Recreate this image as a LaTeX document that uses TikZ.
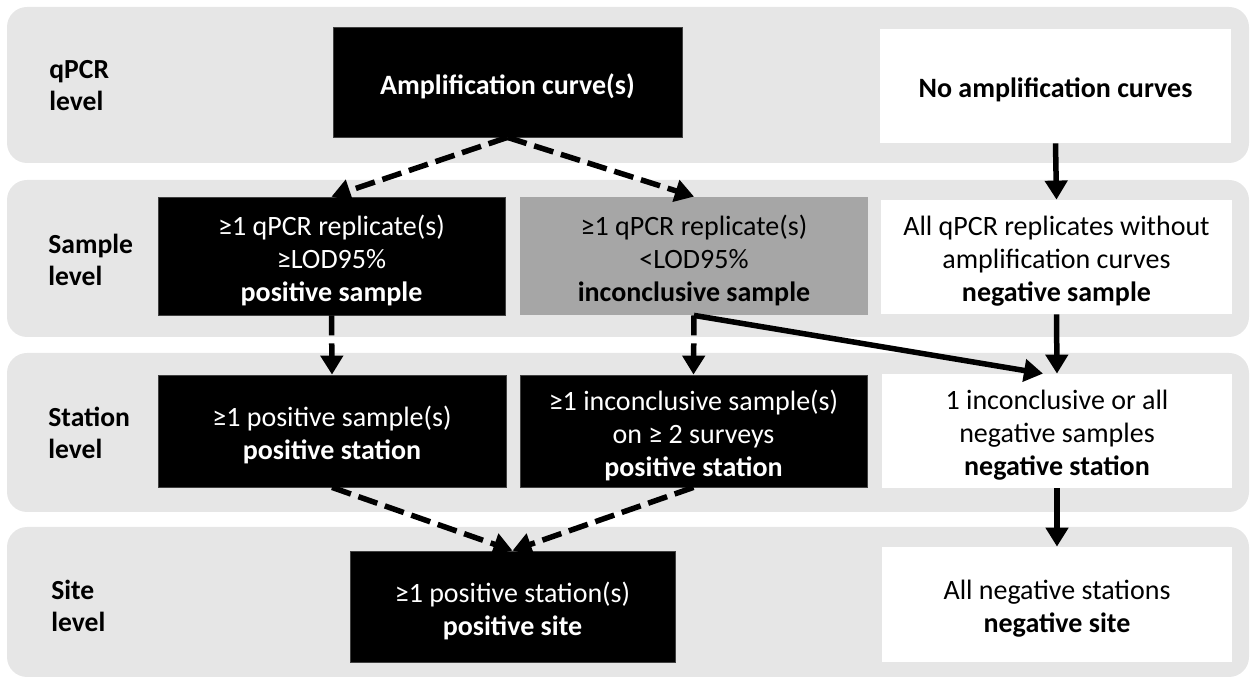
\documentclass[tikz,border=0pt]{standalone}
\usepackage{fontspec}
\setmainfont{Carlito}
\usetikzlibrary{arrows.meta,calc}
\definecolor{bandgray}{HTML}{E6E6E6}
\definecolor{boxgray}{HTML}{A6A6A6}
\begin{document}
\begin{tikzpicture}[x=0.5pt,y=-0.5pt,
  font=\fontsize{14}{16.5}\selectfont,
  band/.style={fill=bandgray,rounded corners=10pt},
  lvl/.style={anchor=west,align=left,inner sep=0pt,font=\fontsize{13.8}{16}\selectfont\bfseries},
  boxbase/.style={align=center,inner sep=0pt},
  darkbox/.style={boxbase,fill=black,draw=black!75,line width=0.4pt},
  greybox/.style={boxbase,fill=boxgray},
  whitebox/.style={boxbase,fill=white},
  dtext/.style={text=white,align=center,yshift=-2pt,inner sep=0pt},
  btext/.style={text=black,align=center,yshift=-2pt,inner sep=0pt},
  conn/.style={line width=2.75pt,-{Triangle[width=11pt,length=9.5pt]}},
  dconn/.style={conn,dash pattern=on 10pt off 4pt}]
\useasboundingbox (0,0) rectangle (1250,679);
% bands
\fill[band] (7,7) rectangle (1249,163);
\fill[band] (7,180) rectangle (1249,337);
\fill[band] (7,353) rectangle (1249,512);
\fill[band] (7,527) rectangle (1249,677);
% level labels
\node[lvl] (l1) at (49,86) {qPCR\\level};
\node[lvl] (l2) at (48,260) {Sample\\level};
\node[lvl] (l3) at (48,433) {Station\\level};
\node[lvl] (l4) at (51,606) {Site\\level};
% boxes
\node[darkbox,minimum width=174.5pt,minimum height=55pt,
  label={[dtext]center:\bfseries Amplification curve(s)}] (amp) at (507.5,82) {};
\node[whitebox,minimum width=175.5pt,minimum height=57pt,
  label={[btext]center:\bfseries No amplification curves}] (noamp) at (1055.5,86) {};
\node[darkbox,minimum width=173.5pt,minimum height=59pt,
  label={[dtext]center:{≥1 qPCR replicate(s)\\≥LOD95\%\\\bfseries positive sample}}] (ps) at (331.5,256) {};
\node[greybox,minimum width=174pt,minimum height=59pt,
  label={[btext]center:{≥1 qPCR replicate(s)\\<LOD95\%\\\bfseries inconclusive sample}}] (is) at (694,256) {};
\node[whitebox,minimum width=175.5pt,minimum height=57pt,
  label={[btext]center:{All qPCR replicates without\\amplification curves\\\bfseries negative sample}}] (ns) at (1056.5,257) {};
\node[darkbox,minimum width=174pt,minimum height=56pt,
  label={[dtext]center:{≥1 positive sample(s)\\\bfseries positive station}}] (pst1) at (332,431) {};
\node[darkbox,minimum width=173.5pt,minimum height=56pt,
  label={[dtext]center:{≥1 inconclusive sample(s)\\on ≥ 2 surveys\\\bfseries positive station}}] (pst2) at (693.5,431) {};
\node[whitebox,minimum width=175pt,minimum height=57pt,
  label={[btext]center:{1 inconclusive or all\\negative samples\\\bfseries negative station}}] (nst) at (1057,431) {};
\node[darkbox,minimum width=162.5pt,minimum height=55.5pt,
  label={[dtext]center:{≥1 positive station(s)\\\bfseries positive site}}] (psite) at (512.5,606.5) {};
\node[whitebox,minimum width=175pt,minimum height=57.5pt,
  label={[btext]center:{All negative stations\\\bfseries negative site}}] (nsite) at (1057,604.5) {};
% connectors
\coordinate (nstin) at ($(nst.north)+(-14,0)$);
\draw[dconn] (amp.south) -- (ps.north);
\draw[dconn] (amp.south) -- (is.north);
\draw[conn] (noamp.south) -- (ns.north);
\draw[dconn] (ps.south) -- (pst1.north);
\draw[dconn] (is.south) -- (pst2.north);
\draw[conn] (is.south) -- (nstin);
\draw[conn] (ns.south) -- (nst.north);
\draw[dconn] (pst1.south) -- (psite.north);
\draw[dconn] (pst2.south) -- (psite.north);
\draw[conn] (nst.south) -- (nsite.north);
\end{tikzpicture}
\end{document}
